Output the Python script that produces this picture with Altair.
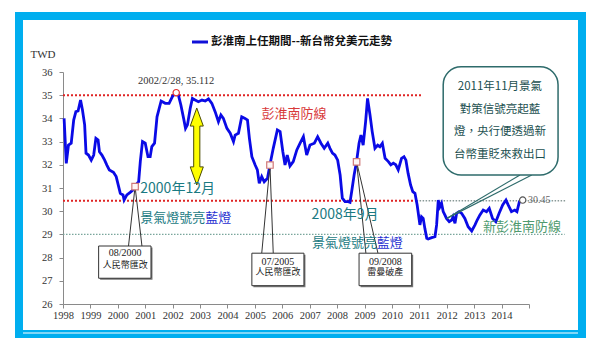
import altair as alt
import pandas as pd

# ---------------- data ----------------
years = [1998.04, 1998.12, 1998.20, 1998.30, 1998.39, 1998.47, 1998.55, 1998.64, 1998.71, 1998.79,
         1998.84, 1998.93, 1999.03, 1999.12, 1999.20, 1999.28, 1999.33, 1999.42, 1999.52, 1999.60,
         1999.69, 1999.84, 1999.94, 2000.03, 2000.09, 2000.19, 2000.23, 2000.33, 2000.45, 2000.55,
         2000.63, 2000.76, 2000.82, 2000.90, 2001.00, 2001.10, 2001.18, 2001.24, 2001.34, 2001.43,
         2001.58, 2001.73, 2001.87, 2001.99, 2002.13, 2002.21, 2002.30, 2002.40, 2002.47, 2002.54,
         2002.64, 2002.72, 2002.82, 2002.94, 2003.07, 2003.19, 2003.31, 2003.43, 2003.55, 2003.67,
         2003.76, 2003.85, 2003.98, 2004.10, 2004.22, 2004.28, 2004.40, 2004.52, 2004.64, 2004.73,
         2004.80, 2004.89, 2005.01, 2005.09, 2005.16, 2005.25, 2005.34, 2005.46, 2005.55, 2005.67,
         2005.82, 2005.92, 2006.02, 2006.10, 2006.18, 2006.28, 2006.40, 2006.53, 2006.65, 2006.77,
         2006.89, 2007.01, 2007.17, 2007.29, 2007.41, 2007.53, 2007.66, 2007.74, 2007.83, 2007.92,
         2008.02, 2008.11, 2008.19, 2008.29, 2008.41, 2008.47, 2008.53, 2008.62, 2008.71, 2008.80,
         2008.87, 2008.95, 2009.04, 2009.11, 2009.20, 2009.28, 2009.38, 2009.48, 2009.56, 2009.65,
         2009.75, 2009.87, 2009.96, 2010.05, 2010.14, 2010.23, 2010.35, 2010.44, 2010.51, 2010.59,
         2010.68, 2010.76, 2010.84, 2010.92, 2011.02, 2011.08, 2011.14, 2011.20, 2011.27, 2011.32,
         2011.45, 2011.57, 2011.63, 2011.69, 2011.75, 2011.81, 2011.87, 2011.93, 2011.99, 2012.09,
         2012.18, 2012.23, 2012.30, 2012.36, 2012.45, 2012.54, 2012.66, 2012.78, 2012.91, 2013.03,
         2013.11, 2013.21, 2013.33, 2013.45, 2013.55, 2013.67, 2013.79, 2013.91, 2014.04, 2014.16,
         2014.24, 2014.36, 2014.48, 2014.56, 2014.65, 2014.77]

twd = [34.0, 32.06, 32.85, 32.93, 33.93, 34.29, 34.32, 34.79, 34.36, 33.72,
       32.5, 32.42, 32.2, 32.42, 33.14, 33.07, 32.56, 32.42, 32.2, 31.99,
       31.78, 31.68, 31.49, 31.06, 30.77, 30.7, 30.48, 30.7, 30.81, 30.91,
       31.1, 31.27, 32.14, 33.0, 32.93, 32.35, 32.35, 32.78, 32.93, 34.07,
       34.75, 34.65, 34.65, 34.94, 35.11, 35.0, 34.58, 34.0, 33.57, 33.72,
       34.43, 34.86, 34.79, 34.72, 34.79, 34.75, 34.84, 34.65, 34.29, 33.86,
       34.15, 34.0, 33.57, 33.36, 33.0, 33.28, 33.36, 34.07, 34.0, 33.93,
       33.14, 32.35, 31.99, 31.78, 31.2, 31.49, 31.27, 31.42, 32.0, 32.71,
       33.5, 33.43, 32.56, 31.99, 32.42, 31.95, 32.14, 32.64, 32.93, 33.21,
       32.42, 32.85, 32.93, 33.21, 32.93, 32.71, 32.93, 32.71, 32.5, 32.42,
       32.2, 31.56, 30.56, 30.41, 30.41, 30.38, 30.84, 31.56, 32.14, 32.93,
       33.28, 32.85, 33.86, 34.86, 34.15, 33.43, 32.71, 32.85, 32.78, 32.93,
       32.28, 32.14, 32.0, 32.07, 32.0, 31.78, 32.28, 32.35, 32.2, 31.63,
       31.13, 30.84, 30.77, 30.27, 29.41, 29.76, 29.69, 29.26, 28.83, 28.80,
       28.86, 28.9, 29.41, 30.48, 30.19, 30.34, 29.98, 29.84, 29.69, 29.55,
       29.62, 29.76, 29.48, 29.91, 29.98, 29.91, 29.69, 29.33, 29.15, 29.41,
       29.62, 29.84, 30.05, 29.98, 30.12, 29.69, 29.55, 29.91, 30.27, 30.48,
       30.27, 29.98, 30.05, 29.98, 30.41, 30.45]

tick_years = list(range(1998, 2016))
tick_twd = list(range(26, 37))

# reference lines (start year, end year, level)
red_lines = [(1998, 2011.1, 35.0), (1998, 2010.9, 30.45)]
gray_lines = [(2010.9, 2016.37, 30.45)]
green_lines = [(1998, 2016.3, 29.0)]

# event markers (year, value)
events_x = [2000.63, 2005.55, 2008.71]
events_y = [31.06, 31.99, 32.13]

# small callout boxes
box_x1 = [1999.30, 2004.89, 2008.80]
box_x2 = [2001.21, 2006.79, 2010.72]
box_y1 = [28.50, 28.19, 28.19]
box_y2 = [27.11, 26.79, 26.79]
box_line1 = ["08/2000", "07/2005", "09/2008"]
box_line2 = ["人民幣匯改", "人民幣匯改", "雷曼破產"]
box_cx = [2000.27, 2005.84, 2009.76]
box_t1y = [28.19, 27.82, 27.82]
box_t2y = [27.70, 27.36, 27.36]
ptr_base_a = [2000.39, 2005.25, 2009.05]
ptr_base_b = [2000.88, 2005.67, 2009.49]

# big callout
callout_lines = ["2011年11月景氣", "對策信號亮起藍", "燈，央行便透過新", "台幣重貶來救出口"]
callout_y = [35.37, 34.36, 33.43, 32.42]

# ---------------- scales / axes ----------------
x_scale = alt.Scale(domain=[1998, 2015], nice=False, zero=False)
y_scale = alt.Scale(domain=[26, 36], nice=False, zero=False)
x_axis = alt.Axis(values=tick_years, format="d", labelExpr="datum.value == 2015 ? '' : datum.label",
                  grid=False, title=None, tickSize=4, tickColor="#8a8a8a", domainColor="#8a8a8a",
                  labelFont="Liberation Serif", labelFontSize=10.5, labelColor="#333333",
                  labelPadding=2, labelOverlap=False, labelFlush=False)
y_axis = alt.Axis(values=tick_twd, format="d", grid=False, title=None, tickSize=4,
                  tickColor="#8a8a8a", domainColor="#8a8a8a", labelFont="Liberation Serif",
                  labelFontSize=10.5, labelColor="#333333", labelPadding=7)


def X(f):
    return alt.X(f"{f}:Q", scale=x_scale, axis=x_axis)


def Y(f):
    return alt.Y(f"{f}:Q", scale=y_scale, axis=y_axis)


def text_layer(rows, font, color, size, align="center", weight="normal"):
    d = pd.DataFrame(rows, columns=["x", "y", "t"])
    return alt.Chart(d).mark_text(font=font, color=color, fontSize=size, align=align,
                                  baseline="middle", fontWeight=weight).encode(
        x=X("x"), y=Y("y"), text="t:N")


df = pd.DataFrame({"year": years, "twd": twd})
one = pd.DataFrame({"a": [0]})

# frame
frame = alt.Chart(one).mark_rect(fillOpacity=0, stroke="#00AEEF", strokeWidth=8).encode(
    x=alt.value(-44), x2=alt.value(519), y=alt.value(-56), y2=alt.value(262))
frame_inner = alt.Chart(one).mark_rule(color="white", strokeWidth=1).encode(
    x=alt.value(-40), x2=alt.value(515), y=alt.value(261))

# title / legend
legend_line = alt.Chart(one).mark_rule(color="#1010D8", strokeWidth=3).encode(
    x=alt.value(129), x2=alt.value(145), y=alt.value(-30))
title = alt.Chart(one).mark_text(text="彭淮南上任期間--新台幣兌美元走勢", font="Noto Sans CJK TC",
                                 fontWeight="bold", fontSize=11.5, align="left", baseline="middle",
                                 color="#111111").encode(x=alt.value(148), y=alt.value(-30))
twd_lbl = alt.Chart(one).mark_text(text="TWD", font="Liberation Serif", fontSize=11,
                                   color="#333333").encode(x=alt.value(-20), y=alt.value(-17))


def rules(lines, color, width, dash):
    d = pd.DataFrame(lines, columns=["x", "x2", "y"])
    return alt.Chart(d).mark_rule(color=color, strokeWidth=width, strokeDash=dash).encode(
        x=X("x"), x2=alt.X2("x2:Q"), y=Y("y"))


red = rules(red_lines, "#E02424", 2, [2, 2])
gray = rules(gray_lines, "#8A9A98", 1.3, [1.5, 1.5])
green = rules(green_lines, "#7AA69C", 1.3, [1.5, 1.5])

line = alt.Chart(df).mark_line(color="#0A0AE6", strokeWidth=2.8).encode(x=X("year"), y=Y("twd"))

# pointers from boxes to events
ptr_rows = []
for i in range(3):
    ptr_rows.append((ptr_base_a[i], box_y1[i], events_x[i], events_y[i]))
    ptr_rows.append((ptr_base_b[i], box_y1[i], events_x[i], events_y[i]))
ptr_df = pd.DataFrame(ptr_rows, columns=["x", "y", "x2", "y2"])
pointers = alt.Chart(ptr_df).mark_rule(color="#333333", strokeWidth=1).encode(
    x=X("x"), y=Y("y"), x2=alt.X2("x2:Q"), y2=alt.Y2("y2:Q"))

box_df = pd.DataFrame({"x": box_x1, "x2": box_x2, "y": box_y1, "y2": box_y2})
box_shadow = alt.Chart(box_df).mark_rect(fill="#777777", xOffset=1.5, yOffset=1.5,
                                         x2Offset=1.5, y2Offset=1.5).encode(
    x=X("x"), x2=alt.X2("x2:Q"), y=Y("y"), y2=alt.Y2("y2:Q"))
boxes = alt.Chart(box_df).mark_rect(fill="white", stroke="#333333", strokeWidth=1).encode(
    x=X("x"), x2=alt.X2("x2:Q"), y=Y("y"), y2=alt.Y2("y2:Q"))
box_t1 = text_layer(list(zip(box_cx, box_t1y, box_line1)), "Liberation Serif", "#222222", 10)
box_t2 = text_layer(list(zip(box_cx, box_t2y, box_line2)), "Noto Sans CJK TC", "#222222", 9)

ev_df = pd.DataFrame({"x": events_x, "y": events_y})
ev_marks = alt.Chart(ev_df).mark_point(shape="square", filled=True, fill="#FFF6F6", stroke="#D07878",
                                       strokeWidth=1.2, size=42, opacity=1).encode(x=X("x"), y=Y("y"))

peak = alt.Chart(pd.DataFrame({"x": [2002.13], "y": [35.11]})).mark_point(
    shape="circle", filled=True, fill="white", stroke="#E03030", strokeWidth=1.2, size=40,
    opacity=1).encode(x=X("x"), y=Y("y"))
endpt = alt.Chart(pd.DataFrame({"x": [2014.77], "y": [30.48]})).mark_point(
    shape="circle", filled=True, fill="white", stroke="#555555", strokeWidth=1.2, size=40,
    opacity=1).encode(x=X("x"), y=Y("y"))

# yellow double arrow
arrow_path = ("M0,-1 L0.17,-0.53 L0.08,-0.53 L0.08,0.53 L0.17,0.53 L0,1 L-0.17,0.53 "
              "L-0.08,0.53 L-0.08,-0.53 L-0.17,-0.53 Z")
arrow = alt.Chart(pd.DataFrame({"x": [2002.88], "y": [32.79]})).mark_point(
    shape=arrow_path, filled=True, fill="#FFFF00", stroke="#4A4A00", strokeWidth=1, size=5929,
    opacity=1).encode(x=X("x"), y=Y("y"))

# big callout
tail_df = pd.DataFrame({"x": [2014.67, 2015.10], "y": [31.56, 31.56],
                        "x2": [2012.0, 2012.0], "y2": [29.69, 29.69]})
tail = alt.Chart(tail_df).mark_rule(color="#2E6B6B", strokeWidth=1.2).encode(
    x=X("x"), y=Y("y"), x2=alt.X2("x2:Q"), y2=alt.Y2("y2:Q"))
cbox = alt.Chart(pd.DataFrame({"x": [2011.87], "x2": [2016.06], "y": [36.23], "y2": [31.56]})).mark_rect(
    fill="white", stroke="#2E6B6B", strokeWidth=1.5, cornerRadius=18).encode(
    x=X("x"), x2=alt.X2("x2:Q"), y=Y("y"), y2=alt.Y2("y2:Q"))
ctext = text_layer([(2013.94, callout_y[i], callout_lines[i]) for i in range(4)],
                   "Noto Sans CJK TC", "#1B4F4F", 11.5)

# annotation texts
peak_lbl = text_layer([(2002.13, 35.62, "2002/2/28, 35.112")], "Liberation Serif", "#333333", 10.5)
red_lbl = text_layer([(2006.43, 34.19, "彭淮南防線")], "Noto Sans CJK TC", "#D83A3A", 13)
teal_big = text_layer([(2000.82, 30.96, "2000年12月"), (2007.07, 29.84, "2008年9月")],
                      "Noto Sans CJK TC", "#1A7A82", 14, align="left")
teal_small = text_layer([(2000.82, 29.71, "景氣燈號亮"), (2007.08, 28.63, "景氣燈號亮")],
                        "Noto Sans CJK TC", "#1A7A82", 13, align="left")
blue_small = text_layer([(2003.19, 29.71, "藍燈"), (2009.45, 28.63, "藍燈")],
                        "Noto Sans CJK TC", "#1F2FD0", 13, align="left")
green_lbl = text_layer([(2013.32, 29.33, "新彭淮南防線")], "Noto Sans CJK TC", "#4F9A6E", 13, align="left")
end_lbl = text_layer([(2014.96, 30.48, "30.45")], "Liberation Serif", "#666666", 10, align="left")

chart = alt.layer(
    frame, frame_inner, legend_line, title, twd_lbl,
    red, gray, green, line, pointers, box_shadow, boxes, box_t1, box_t2, ev_marks,
    peak, endpt, arrow, tail, cbox, ctext,
    peak_lbl, red_lbl, teal_big, teal_small, blue_small, green_lbl, end_lbl,
).properties(
    width=466, height=232,
    padding={"left": 63, "top": 72, "right": 71, "bottom": 47},
    autosize=alt.AutoSizeParams(type="none"),
    background="white",
).configure_view(stroke=None)

chart.save("out.html", embed_options={"renderer": "svg", "actions": False})
